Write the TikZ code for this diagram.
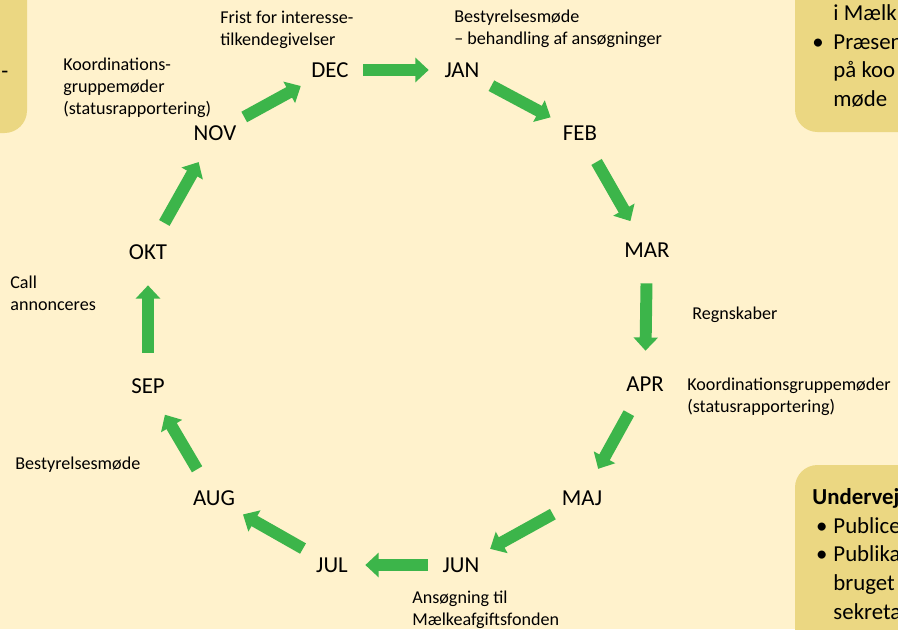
\documentclass[tikz,border=0pt]{standalone}
\usepackage{fontspec}
\setmainfont{Carlito}
\usetikzlibrary{arrows.meta}
\definecolor{bgcream}{HTML}{FFF2CC}
\definecolor{boxgold}{HTML}{EBD782}
\definecolor{arrowgreen}{HTML}{3CB54A}

\begin{document}
\begin{tikzpicture}[x=0.02cm, y=-0.02cm,
            month/.style={circle, minimum size=1.2cm, inner sep=0pt, font=\fontsize{13}{15}\selectfont},
            note/.style={anchor=west, align=left, inner sep=0pt, font=\fontsize{10.3}{12.5}\selectfont},
            boxtext/.style={anchor=west, align=left, inner sep=0pt, font=\fontsize{13}{16.3}\selectfont},
            sidebox/.style={fill=boxgold, rounded corners=0.45cm},
            flow/.style={line width=6.8pt, draw=arrowgreen, -{Triangle[length=7.5pt,width=13.5pt]}, shorten <=1.7pt, shorten >=1.7pt}
        ]

% Page and clipping
            \useasboundingbox (0,0) rectangle (898,629);
            \clip (0,0) rectangle (898,629);
            \fill [bgcream] (0,0) rectangle (898,629);

% Side boxes, cut by the page edge
            \fill [sidebox] (-40,-40) rectangle (27,133);
            \fill [sidebox] (795,-40) rectangle (940,132);
            \fill [sidebox] (795,465) rectangle (940,670);

            \node (lefttext) [boxtext] at (1,75) {-};
            \node (toptext) [boxtext] at (812,56) {\hspace*{12pt}i Mælk\\\makebox[12pt][l]{•}Præsen\\\hspace*{12pt}på koo\\\hspace*{12pt}møde};
            \node (bottomtext) [boxtext] at (812,554) {\textbf{Undervej}\\\makebox[12pt][l]{\,•}Publice\\\makebox[12pt][l]{\,•}Publika\\\hspace*{12pt}bruget\\\hspace*{12pt}sekreta};

% Months round the year
            \node (dec) [month] at (330,70) {DEC};
            \node (jan) [month] at (462,70) {JAN};
            \node (feb) [month] at (580,133) {FEB};
            \node (mar) [month] at (647,250) {MAR};
            \node (apr) [month] at (645,384) {APR};
            \node (maj) [month] at (582,498) {MAJ};
            \node (jun) [month] at (461,565) {JUN};
            \node (jul) [month] at (332,565) {JUL};
            \node (aug) [month] at (214,498) {AUG};
            \node (sep) [month] at (148,386) {SEP};
            \node (okt) [month] at (148,252) {OKT};
            \node (nov) [month] at (215,133) {NOV};

% Green arrows, clockwise
            \draw [flow] (dec) -- (jan);
            \draw [flow] (jan) -- (feb);
            \draw [flow] (feb) -- (mar);
            \draw [flow] (mar) -- (apr);
            \draw [flow] (apr) -- (maj);
            \draw [flow] (maj) -- (jun);
            \draw [flow] (jun) -- (jul);
            \draw [flow] (jul) -- (aug);
            \draw [flow] (aug) -- (sep);
            \draw [flow] (sep) -- (okt);
            \draw [flow] (okt) -- (nov);
            \draw [flow] (nov) -- (dec);

% Labels
            \node (frist) [note] at (220,29.5) {Frist for interesse-\\tilkendegivelser};
            \node (board1) [note] at (454,29) {Bestyrelsesmøde\\– behandling af ansøgninger};
            \node (coord1) [note] at (63,87.5) {Koordinations-\\gruppemøder\\(statusrapportering)};
            \node (accounts) [note] at (692,315) {Regnskaber};
            \node (coord2) [note] at (687,396.5) {Koordinationsgruppemøder\\(statusrapportering)};
            \node (apply) [note] at (412,609.5) {Ansøgning til\\Mælkeafgiftsfonden};
            \node (board2) [note] at (15,465) {Bestyrelsesmøde};
            \node (call) [note] at (10,293.5) {Call\\annonceres};

        \end{tikzpicture}
\end{document}
